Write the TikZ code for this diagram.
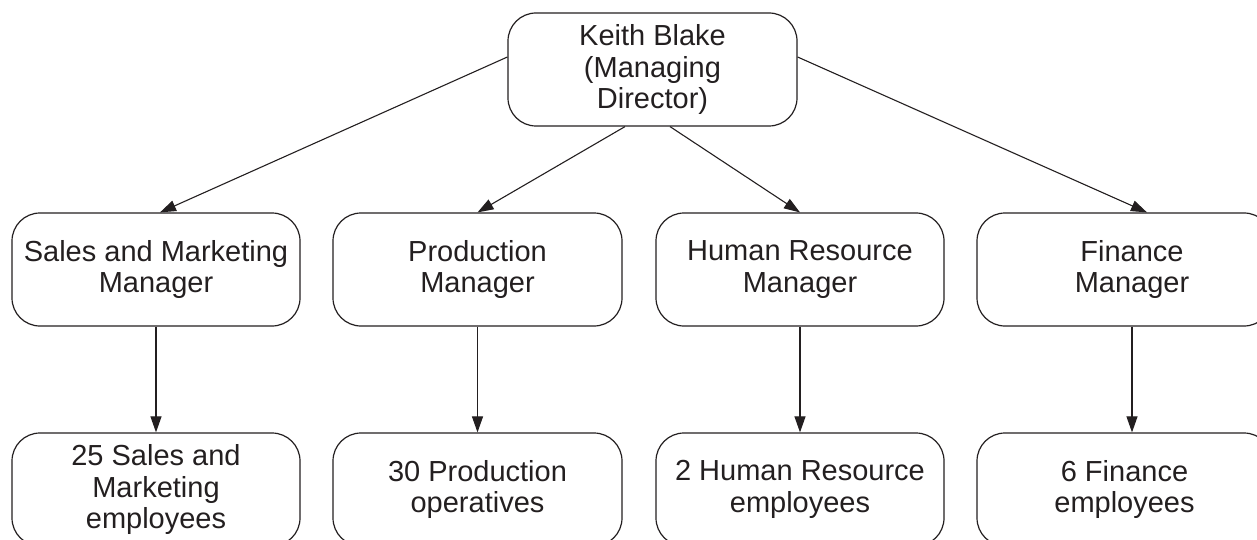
\documentclass[tikz,border=0pt]{standalone}
\usepackage{fontspec}
\setmainfont{Liberation Sans}
\usetikzlibrary{arrows.meta}
\definecolor{ink}{HTML}{231F20}
\tikzset{
  box/.style={draw=ink, line width=1.2pt, rounded corners=28pt, rectangle,
    minimum width=288pt, minimum height=113pt, inner sep=0pt, align=center,
    text=ink, font=\fontsize{29}{31.5}\selectfont},
  link/.style={draw=ink, line width=1.1pt, -{Triangle[length=16pt,width=11pt]}}
}
\begin{document}
\begin{tikzpicture}[x=1pt,y=-1pt]
\clip (0,0) rectangle (1257,540);
\node[box, minimum width=289pt] (top) at (652.5,69.5) {Keith Blake\\(Managing\\Director)};
\node[box] (m1) at (156,269.5) {Sales and Marketing\\Manager};
\node[box, minimum width=289pt] (m2) at (477.5,269.5) {Production\\Manager};
\node[box] (m3) at (800,269.5) {Human Resource\\Manager};
\node[box, minimum width=295pt,
  label={[xshift=7.5pt, align=center, text=ink, font=\fontsize{29}{31.5}\selectfont]center:Finance\\Manager}] (m4) at (1124.5,269.5) {};
\node[box] (b1) at (156,489.5) {25 Sales and\\Marketing\\employees};
\node[box, minimum width=289pt] (b2) at (477.5,489.5) {30 Production\\operatives};
\node[box] (b3) at (800,489.5) {2 Human Resource\\employees};
\node[box, minimum width=295pt] (b4) at (1124.5,489.5) {6 Finance\\employees};
\draw[link] ([yshift=12.5pt]top.west) -- ([xshift=4pt]m1.north);
\draw[link] ([xshift=-27.5pt]top.south) -- (m2.north);
\draw[link] ([xshift=17.5pt]top.south) -- (m3.north);
\draw[link] ([yshift=12.5pt]top.east) -- ([xshift=22.5pt]m4.north);
\draw[link] (m1.south) -- (b1.north);
\draw[link] (m2.south) -- (b2.north);
\draw[link] (m3.south) -- (b3.north);
\draw[link] ([xshift=7.5pt]m4.south) -- ([xshift=7.5pt]b4.north);
\end{tikzpicture}
\end{document}
